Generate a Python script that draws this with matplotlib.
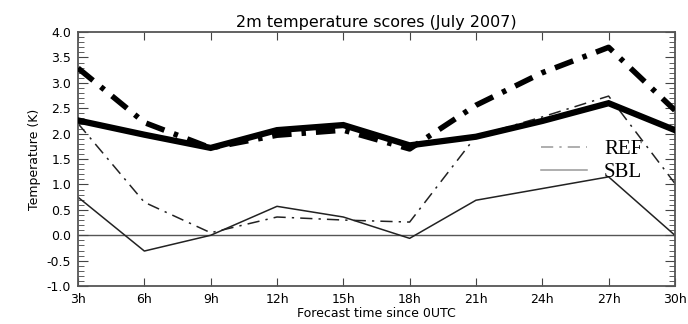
import matplotlib
matplotlib.use('Agg')
import matplotlib.pyplot as plt
from matplotlib.ticker import MultipleLocator

# forecast lead times and labels
hours = [3, 6, 9, 12, 15, 18, 21, 24, 27, 30]
hour_labels = ['3h', '6h', '9h', '12h', '15h', '18h', '21h', '24h', '27h', '30h']

# REF scores (thick = rmse, thin = bias)
ref_rmse = [3.29, 2.22, 1.72, 1.97, 2.07, 1.70, 2.56, 3.20, 3.70, 2.46]
ref_bias = [2.20, 0.65, 0.05, 0.36, 0.30, 0.26, 1.95, 2.33, 2.74, 1.02]
# SBL scores
sbl_rmse = [2.26, 1.98, 1.72, 2.07, 2.17, 1.77, 1.94, 2.25, 2.60, 2.07]
sbl_bias = [0.75, -0.31, 0.0, 0.57, 0.36, -0.06, 0.69, 0.92, 1.15, 0.0]

fig = plt.figure(figsize=(6.88, 3.24), dpi=100)
ax = fig.add_axes([0.1134, 0.117, 0.8676, 0.784])

ax.axhline(0, color='#555555', lw=1.0, zorder=1)

ax.plot(hours, ref_rmse, color='black', lw=4.0, dashes=(3.5, 1.8, 0.8, 1.8), zorder=3)
ax.plot(hours, sbl_rmse, color='black', lw=4.5, solid_joinstyle='miter', zorder=3)
ref_line, = ax.plot(hours, ref_bias, color='#222222', lw=1.1, dashes=(8, 4, 1.5, 4), zorder=2)
sbl_line, = ax.plot(hours, sbl_bias, color='#222222', lw=1.1, zorder=2)

ax.set_xlim(3, 30)
ax.set_ylim(-1.0, 4.0)
ax.set_xticks(hours)
ax.set_xticklabels(hour_labels)
ax.yaxis.set_major_locator(MultipleLocator(0.5))
ax.yaxis.set_minor_locator(MultipleLocator(0.1))
ax.set_yticklabels(['%.1f' % v for v in ax.get_yticks()])
ax.set_ylim(-1.0, 4.0)

ax.tick_params(axis='both', which='both', direction='in', top=True, right=True,
               labelsize=9, pad=5, color='#444444')
ax.tick_params(axis='y', which='major', length=7)
ax.tick_params(axis='y', which='minor', length=4)
ax.tick_params(axis='x', which='major', length=6)
for s in ax.spines.values():
    s.set_color('#555555')
    s.set_linewidth(1.3)

ax.set_title('2m temperature scores (July 2007)', fontsize=11.5, pad=4)
ax.set_xlabel('Forecast time since 0UTC', fontsize=9, labelpad=1)
ax.set_ylabel('Temperature (K)', fontsize=9, labelpad=4)

leg = ax.legend([ref_line, sbl_line], ['REF', 'SBL'], loc='upper left',
                bbox_to_anchor=(0.745, 0.65), frameon=False, handlelength=2.2,
                handletextpad=0.8, labelspacing=0.15,
                prop={'family': 'Liberation Serif', 'size': 15})
for h in leg.get_lines():
    h.set_color('#999999')

fig.savefig('out.png', dpi=100)
